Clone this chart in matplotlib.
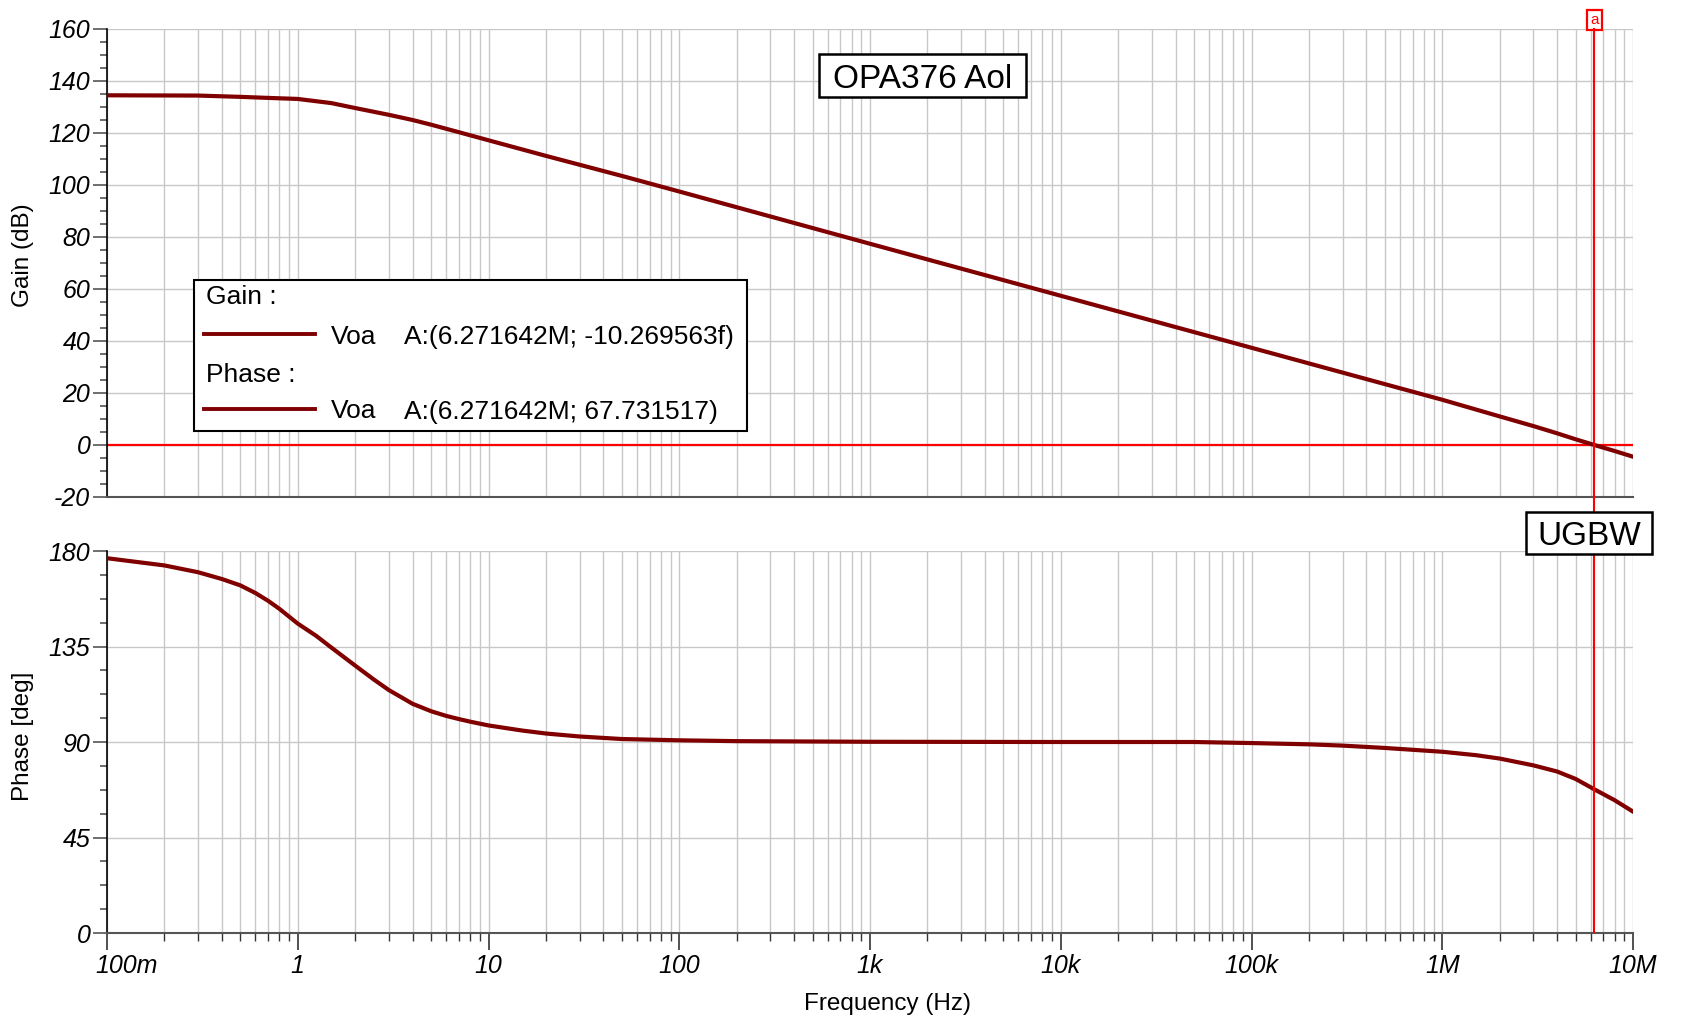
import numpy as np
import matplotlib.pyplot as plt
import matplotlib.transforms as mtransforms
from matplotlib.ticker import LogLocator, NullFormatter
from matplotlib.patches import Rectangle
from matplotlib.lines import Line2D

plt.rcParams['font.family'] = ['Liberation Sans', 'DejaVu Sans']
plt.rcParams['axes.unicode_minus'] = False

# values (TINA AC analysis, OPA376 open loop)
gain_freq = [0.1, 0.3, 0.5, 0.7, 1, 1.5, 2, 3, 4, 5, 7, 10, 20, 50, 100,
             1e3, 1e4, 1e5, 1e6, 2e6, 3e6, 4e6, 5e6, 6.271642e6, 8e6, 1e7]
gain_db = [134.5, 134.4, 133.9, 133.5, 133.1, 131.5, 129.6, 127.0, 125.0, 123.2, 120.3, 117.2, 111.2, 103.5, 97.5,
           77.4, 57.4, 37.4, 17.4, 11.0, 7.3, 4.5, 2.2, 0.0, -2.3, -4.5]

phase_freq = [0.1, 0.2, 0.3, 0.4, 0.5, 0.6, 0.7, 0.8, 1, 1.25, 1.5, 2, 2.5, 3, 4, 5, 6, 7, 8, 10,
              15, 20, 30, 50, 100, 200, 1e3, 1e4, 5e4, 1e5, 2e5, 3e5, 5e5,
              1e6, 1.5e6, 2e6, 3e6, 4e6, 5e6, 6.271642e6, 8e6, 1e7]
phase_deg = [176.6, 173.2, 170.0, 166.8, 163.8, 160.2, 156.5, 152.8, 145.8, 140.0, 134.5, 126.0, 119.5, 114.5, 108.0, 104.5,
             102.3, 100.8, 99.6, 97.8,
             95.4, 94.0, 92.6, 91.4, 90.8, 90.4, 90.1, 90.0, 90.0, 89.5, 88.9, 88.3, 87.2,
             85.4, 83.8, 82.2, 79.0, 76.1, 72.6, 67.7, 62.6, 57.2]

cursor_f = 6.271642e6
freq_ticks = [0.1, 1, 10, 100, 1e3, 1e4, 1e5, 1e6, 1e7]
freq_labels = ['100m', '1', '10', '100', '1k', '10k', '100k', '1M', '10M']
gain_ticks = [-20, 0, 20, 40, 60, 80, 100, 120, 140, 160]
phase_ticks = [0, 45, 90, 135, 180]

W, H = 1684, 1022
curve_col = '#800000'
grid_col = '#c8c8c8'
tick_font = dict(fontstyle='italic', fontsize=18)

fig = plt.figure(figsize=(W / 100, H / 100), dpi=100)
ax1 = fig.add_axes([107 / W, 1 - 497 / H, 1526 / W, 468 / H])
ax2 = fig.add_axes([107 / W, 1 - 933 / H, 1526 / W, 382 / H])

for ax in (ax1, ax2):
    ax.set_xscale('log')
    ax.set_xlim(0.1, 1e7)
    ax.xaxis.set_minor_locator(LogLocator(base=10, subs=np.arange(2, 10), numticks=100))
    ax.xaxis.set_minor_formatter(NullFormatter())
    ax.spines['top'].set_visible(False)
    ax.spines['right'].set_visible(False)
    ax.spines['left'].set_color('black')
    ax.spines['left'].set_linewidth(1.2)
    ax.spines['bottom'].set_color('#555555')
    ax.spines['bottom'].set_linewidth(1.5)

# gain
ax1.plot(gain_freq, gain_db, color=curve_col, lw=3.0, zorder=3)
ax1.axhline(0, color='red', lw=1.6, zorder=2)
ax1.set_ylim(-20, 160)
ax1.set_yticks(gain_ticks, [str(t) for t in gain_ticks], **tick_font)
ax1.set_yticks(np.arange(-20, 161, 5), minor=True)
ax1.set_xticks(freq_ticks, [''] * len(freq_ticks))
ax1.tick_params(axis='x', which='both', length=0, labelbottom=False)

# phase
ax2.plot(phase_freq, phase_deg, color=curve_col, lw=3.0, zorder=3)
ax2.set_ylim(0, 180)
ax2.set_yticks(phase_ticks, [str(t) for t in phase_ticks], **tick_font)
ax2.set_yticks(np.arange(0, 181, 11.25), minor=True)
ax2.set_xticks(freq_ticks, freq_labels, **tick_font)
ax2.tick_params(axis='x', which='major', length=12, width=1.2, color='#333333', pad=3)
ax2.tick_params(axis='x', which='minor', length=6, width=1.0, color='#333333')
first = ax2.get_xticklabels()[0]
first.set_transform(first.get_transform() + mtransforms.ScaledTranslation(0.2, 0, fig.dpi_scale_trans))

for ax in (ax1, ax2):
    ax.tick_params(axis='y', which='major', length=10, width=1.2, color='#555555', pad=2)
    ax.tick_params(axis='y', which='minor', length=5, width=1.2, color='#555555')
    ax.grid(True, which='both', axis='x', color=grid_col, lw=1.0)
    ax.grid(True, which='major', axis='y', color=grid_col, lw=1.0)
    ax.set_axisbelow(True)

# cursor A
ax1.axvline(cursor_f, ymin=-54 / 468, ymax=1, color='red', lw=1.5, clip_on=False, zorder=4)
ax2.axvline(cursor_f, color='red', lw=1.5, zorder=4)
ax1.text(cursor_f, 1.004, 'a', transform=ax1.get_xaxis_transform(), ha='center', va='bottom',
         fontsize=11, color='red',
         bbox=dict(boxstyle='square,pad=0.22', fc='white', ec='red', lw=1.6))

# axis labels
fig.text(23 / W, 1 - 255 / H, 'Gain (dB)', rotation=90, ha='center', va='center', fontsize=17.5)
fig.text(23 / W, 1 - 736 / H, 'Phase [deg]', rotation=90, ha='center', va='center', fontsize=17.5)
fig.text(888 / W, 1 - 1004 / H, 'Frequency (Hz)', ha='center', va='center', fontsize=17.5)


def boxed(x0, y0, x1, y1, text, size):
    fig.add_artist(Rectangle((x0 / W, 1 - y1 / H), (x1 - x0) / W, (y1 - y0) / H,
                             transform=fig.transFigure, fc='white', ec='black', lw=1.8, zorder=5))
    fig.text((x0 + x1) / 2 / W, 1 - (y0 + y1) / 2 / H, text, ha='center', va='center_baseline',
             fontsize=size, zorder=6)


boxed(819, 54, 1026, 97, 'OPA376 Aol', 24)
boxed(1526, 512, 1652, 554, 'UGBW', 24)

# legend block
fig.add_artist(Rectangle((194 / W, 1 - 431 / H), 553 / W, 151 / H, transform=fig.transFigure,
                         fc='white', ec='black', lw=1.5, zorder=5))
rows = [('Gain :', None), ('Voa', 'A:(6.271642M; -10.269563f)'),
        ('Phase :', None), ('Voa', 'A:(6.271642M; 67.731517)')]
row_y = [295, 334, 372, 409]
for (a, b), y in zip(rows, row_y):
    yf = 1 - y / H
    if b is None:
        fig.text(206 / W, yf, a, ha='left', va='center_baseline', fontsize=19, zorder=6)
    else:
        fig.add_artist(Line2D([204 / W, 315 / W], [yf, yf], color=curve_col, lw=2.8, zorder=6))
        fig.text(331 / W, yf, a, ha='left', va='center_baseline', fontsize=19, zorder=6)
        fig.text(404 / W, yf, b, ha='left', va='center_baseline', fontsize=19, zorder=6)

fig.savefig('out.png', dpi=100)
